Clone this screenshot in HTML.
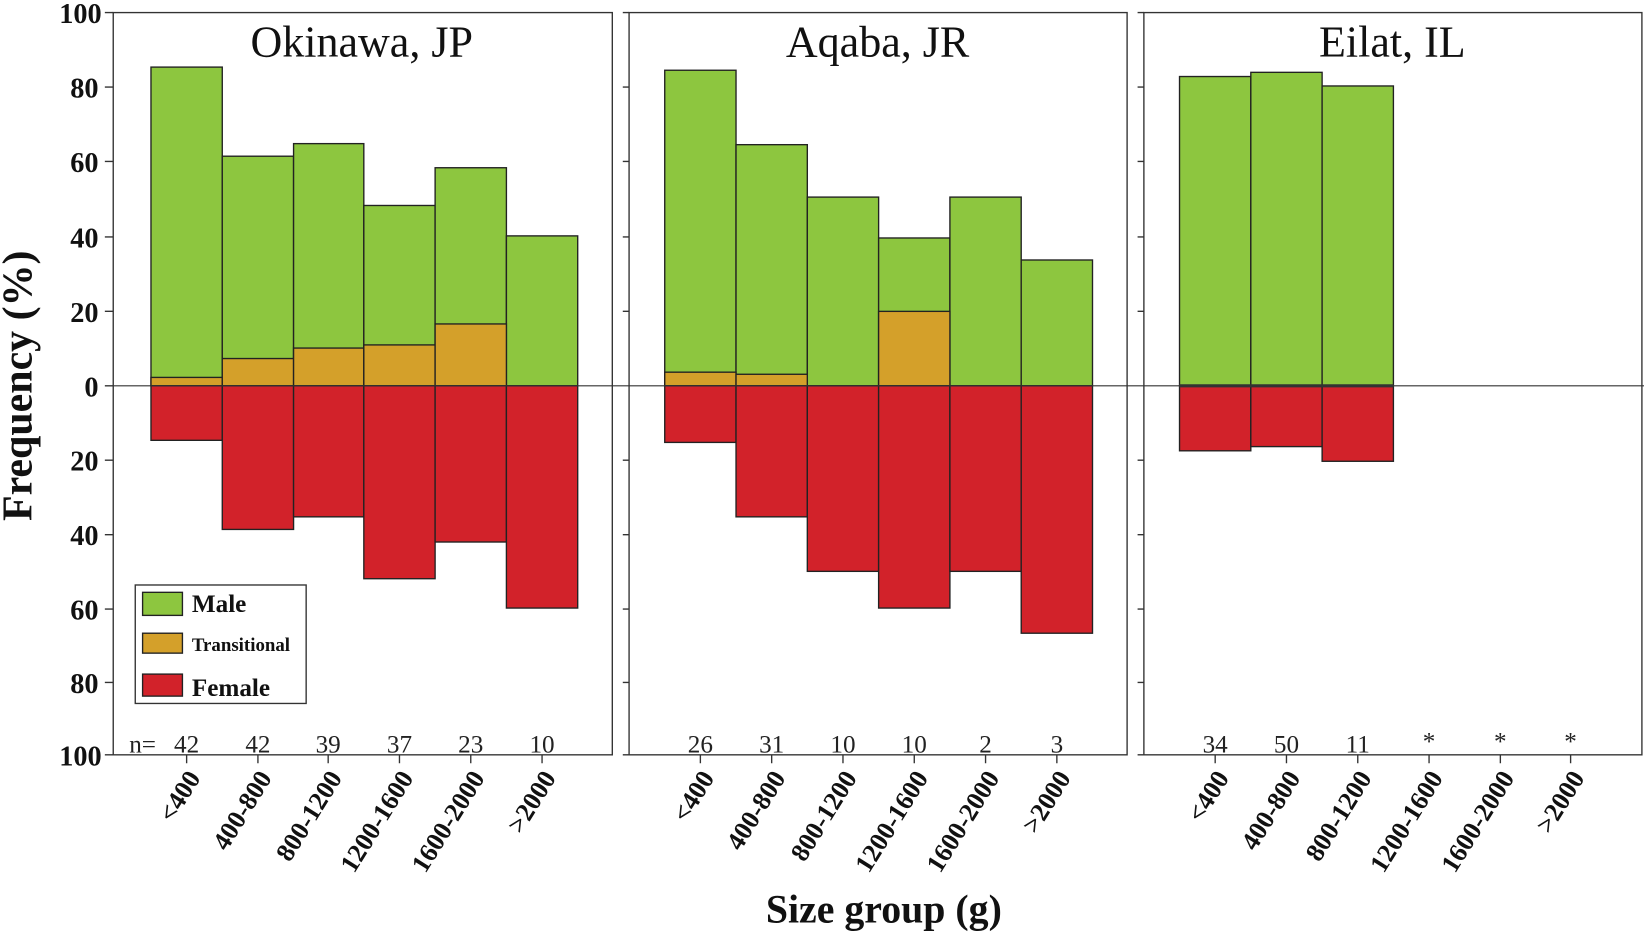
<!DOCTYPE html>
<html><head><meta charset="utf-8"><style>html,body{margin:0;padding:0;background:#fff}svg{display:block}</style></head>
<body>
<svg width="1644" height="932" viewBox="0 0 1568 889" preserveAspectRatio="none" xmlns="http://www.w3.org/2000/svg" font-family="Liberation Serif, serif">
<g stroke="#222" stroke-width="1.3">
<rect x="144" y="64" width="68" height="304" fill="#8dc63f"/>
<rect x="212" y="149" width="68" height="219" fill="#8dc63f"/>
<rect x="280" y="137" width="67" height="231" fill="#8dc63f"/>
<rect x="347" y="196" width="68" height="172" fill="#8dc63f"/>
<rect x="415" y="160" width="68" height="208" fill="#8dc63f"/>
<rect x="483" y="225" width="68" height="143" fill="#8dc63f"/>
<rect x="144" y="360" width="68" height="8" fill="#d4a02a"/>
<rect x="212" y="342" width="68" height="26" fill="#d4a02a"/>
<rect x="280" y="332" width="67" height="36" fill="#d4a02a"/>
<rect x="347" y="329" width="68" height="39" fill="#d4a02a"/>
<rect x="415" y="309" width="68" height="59" fill="#d4a02a"/>
<rect x="144" y="368" width="68" height="52" fill="#d2222a"/>
<rect x="212" y="368" width="68" height="137" fill="#d2222a"/>
<rect x="280" y="368" width="67" height="125" fill="#d2222a"/>
<rect x="347" y="368" width="68" height="184" fill="#d2222a"/>
<rect x="415" y="368" width="68" height="149" fill="#d2222a"/>
<rect x="483" y="368" width="68" height="212" fill="#d2222a"/>
<rect x="634" y="67" width="68" height="301" fill="#8dc63f"/>
<rect x="702" y="138" width="68" height="230" fill="#8dc63f"/>
<rect x="770" y="188" width="68" height="180" fill="#8dc63f"/>
<rect x="838" y="227" width="68" height="141" fill="#8dc63f"/>
<rect x="906" y="188" width="68" height="180" fill="#8dc63f"/>
<rect x="974" y="248" width="68" height="120" fill="#8dc63f"/>
<rect x="634" y="355" width="68" height="13" fill="#d4a02a"/>
<rect x="702" y="357" width="68" height="11" fill="#d4a02a"/>
<rect x="838" y="297" width="68" height="71" fill="#d4a02a"/>
<rect x="634" y="368" width="68" height="54" fill="#d2222a"/>
<rect x="702" y="368" width="68" height="125" fill="#d2222a"/>
<rect x="770" y="368" width="68" height="177" fill="#d2222a"/>
<rect x="838" y="368" width="68" height="212" fill="#d2222a"/>
<rect x="906" y="368" width="68" height="177" fill="#d2222a"/>
<rect x="974" y="368" width="68" height="236" fill="#d2222a"/>
<rect x="1125" y="73" width="68" height="295" fill="#8dc63f"/>
<rect x="1193" y="69" width="68" height="299" fill="#8dc63f"/>
<rect x="1261" y="82" width="68" height="286" fill="#8dc63f"/>
<rect x="1125" y="368" width="68" height="62" fill="#d2222a"/>
<rect x="1193" y="368" width="68" height="58" fill="#d2222a"/>
<rect x="1261" y="368" width="68" height="72" fill="#d2222a"/>
</g>
<g fill="none" stroke="#333" stroke-width="1.3">
<rect x="108" y="12" width="476" height="708"/>
<rect x="600" y="12" width="475" height="708"/>
<rect x="1091" y="12" width="475" height="708"/>
<line x1="108" y1="368" x2="1568" y2="368" stroke-width="1"/>
<line x1="1125" y1="368" x2="1329" y2="368" stroke-width="3"/>
<path d="M100 12h8M100 83h8M100 154h8M100 226h8M100 297h8M100 368h8M100 439h8M100 510h8M100 581h8M100 651h8M100 720h8"/>
<path d="M594 12h6M594 83h6M594 154h6M594 226h6M594 297h6M594 439h6M594 510h6M594 581h6M594 651h6M594 720h6"/>
<path d="M1085 12h6M1085 83h6M1085 154h6M1085 226h6M1085 297h6M1085 439h6M1085 510h6M1085 581h6M1085 651h6M1085 720h6"/>
<path d="M178 720v8M246 720v8M313 720v8M381 720v8M449 720v8M517 720v8"/>
<path d="M668 720v8M736 720v8M804 720v8M872 720v8M940 720v8M1008 720v8"/>
<path d="M1159 720v8M1227 720v8M1295 720v8M1363 720v8M1431 720v8M1498 720v8"/>
</g>
<g font-weight="bold" font-size="27" text-anchor="end" fill="#111">
<text x="97" y="22">100</text><text x="94" y="93">80</text><text x="94" y="164">60</text><text x="94" y="236">40</text><text x="94" y="307">20</text><text x="94" y="378">0</text><text x="94" y="449">20</text><text x="94" y="520">40</text><text x="94" y="591">60</text><text x="94" y="661">80</text><text x="97" y="730">100</text>
</g>
<g font-size="42" text-anchor="middle" fill="#111">
<text x="345" y="54">Okinawa, JP</text><text x="837" y="54">Aqaba, JR</text><text x="1328" y="54">Eilat, IL</text>
</g>
<g font-size="24" text-anchor="middle" fill="#222">
<text x="136" y="718">n=</text>
<text x="178" y="718">42</text><text x="246" y="718">42</text><text x="313" y="718">39</text><text x="381" y="718">37</text><text x="449" y="718">23</text><text x="517" y="718">10</text>
<text x="668" y="718">26</text><text x="736" y="718">31</text><text x="804" y="718">10</text><text x="872" y="718">10</text><text x="940" y="718">2</text><text x="1008" y="718">3</text>
<text x="1159" y="718">34</text><text x="1227" y="718">50</text><text x="1295" y="718">11</text><text x="1363" y="715">*</text><text x="1431" y="715">*</text><text x="1498" y="715">*</text>
</g>
<g font-size="25" font-weight="bold" text-anchor="end" fill="#111">
<text transform="translate(192,742) rotate(-58)">&lt;400</text>
<text transform="translate(260,742) rotate(-58)">400-800</text>
<text transform="translate(327,742) rotate(-58)">800-1200</text>
<text transform="translate(395,742) rotate(-58)">1200-1600</text>
<text transform="translate(463,742) rotate(-58)">1600-2000</text>
<text transform="translate(531,742) rotate(-58)">&gt;2000</text>
<text transform="translate(682,742) rotate(-58)">&lt;400</text>
<text transform="translate(750,742) rotate(-58)">400-800</text>
<text transform="translate(818,742) rotate(-58)">800-1200</text>
<text transform="translate(886,742) rotate(-58)">1200-1600</text>
<text transform="translate(954,742) rotate(-58)">1600-2000</text>
<text transform="translate(1022,742) rotate(-58)">&gt;2000</text>
<text transform="translate(1173,742) rotate(-58)">&lt;400</text>
<text transform="translate(1241,742) rotate(-58)">400-800</text>
<text transform="translate(1309,742) rotate(-58)">800-1200</text>
<text transform="translate(1377,742) rotate(-58)">1200-1600</text>
<text transform="translate(1445,742) rotate(-58)">1600-2000</text>
<text transform="translate(1512,742) rotate(-58)">&gt;2000</text>
</g>
<text x="843" y="880" font-size="38" font-weight="bold" text-anchor="middle" fill="#111">Size group (g)</text>
<text transform="translate(30,368) rotate(-90)" font-size="40" font-weight="bold" text-anchor="middle" fill="#111">Frequency (%)</text>
<g>
<rect x="129" y="558" width="163" height="113" fill="#fff" stroke="#333" stroke-width="1.3"/>
<rect x="136" y="565" width="38" height="22" fill="#8dc63f" stroke="#222" stroke-width="1.3"/>
<rect x="136" y="604" width="38" height="19" fill="#d4a02a" stroke="#222" stroke-width="1.3"/>
<rect x="136" y="643" width="38" height="21" fill="#d2222a" stroke="#222" stroke-width="1.3"/>
<text x="183" y="584" font-size="24" font-weight="bold" fill="#111">Male</text>
<text x="183" y="621" font-size="18" font-weight="bold" fill="#111">Transitional</text>
<text x="183" y="664" font-size="24" font-weight="bold" fill="#111">Female</text>
</g>
</svg>
</body></html>
